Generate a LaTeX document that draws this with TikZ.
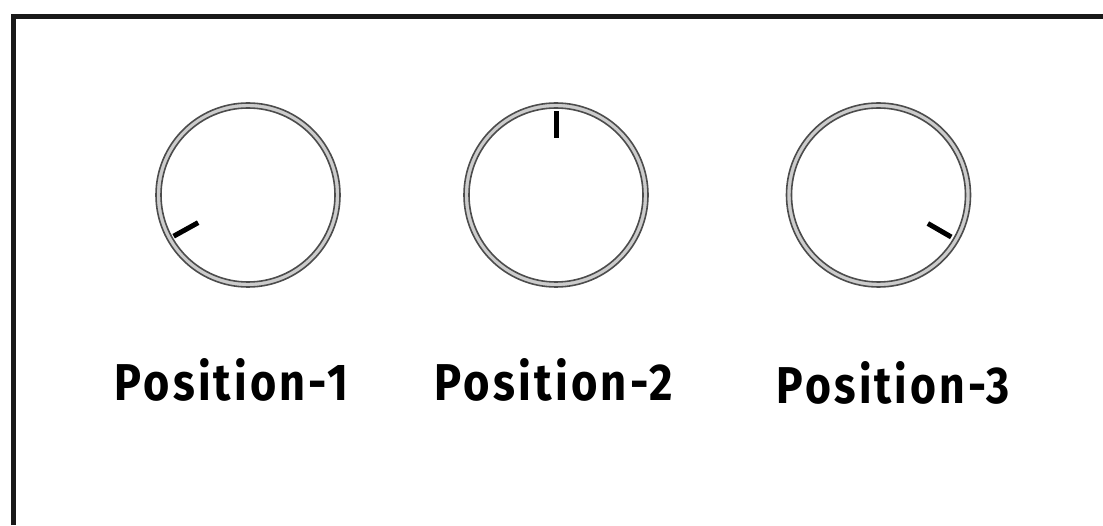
\documentclass[tikz,border=0pt]{standalone}
\usepackage{fontspec}
\setmainfont{Fira Sans}
\newfontfamily\labfont{Fira Sans}[LetterSpace=7]
\usepackage{graphicx}
\begin{document}
\begin{tikzpicture}[x=1pt,y=1pt,
  knob/.style={circle,minimum size=184pt,inner sep=0pt},
  ringband/.style={draw=black!20,line width=5pt},
  ringline/.style={draw=black!70,line width=1.6pt},
  pointer/.style={draw=black,line width=5pt},
  label/.style={anchor=base,inner sep=0pt},
  frame/.style={draw=black!90,line width=5pt}]
\useasboundingbox (0,0) rectangle (1103,525);
\fill[white] (0,0) rectangle (1103,525);
% frame
\coordinate (fbl) at (13.5,0);
\coordinate (ftl) at (13.5,508.5);
\coordinate (ftr) at (1103,508.5);
\draw[frame] (fbl) -- (ftl) -- (ftr);
% knobs
\node[knob] (k1) at (248,330) {};
\node[knob] (k2) at (556,330) {};
\node[knob] (k3) at (878.5,330) {};
\foreach \k in {k1,k2,k3}{
  \draw[ringband] (\k.center) circle[radius=89.5];
  \draw[ringline] (\k.center) circle[radius=92];
  \draw[ringline] (\k.center) circle[radius=87];
}
\draw[pointer] ([shift={(209:57)}]k1.center) -- ([shift={(209:85)}]k1.center);
\draw[pointer] ([shift={(90:57)}]k2.center) -- ([shift={(90:84)}]k2.center);
\draw[pointer] ([shift={(-30:57)}]k3.center) -- ([shift={(-30:84)}]k3.center);
% labels
\node[label] (l1) at (231.5,125) {\resizebox{233pt}{42pt}{\labfont\bfseries Position-1}};
\node[label] (l2) at (554,125) {\resizebox{238pt}{42pt}{\labfont\bfseries Position-2}};
\node[label] (l3) at (893.5,122) {\resizebox{233pt}{42pt}{\labfont\bfseries Position-3}};
\end{tikzpicture}
\end{document}
